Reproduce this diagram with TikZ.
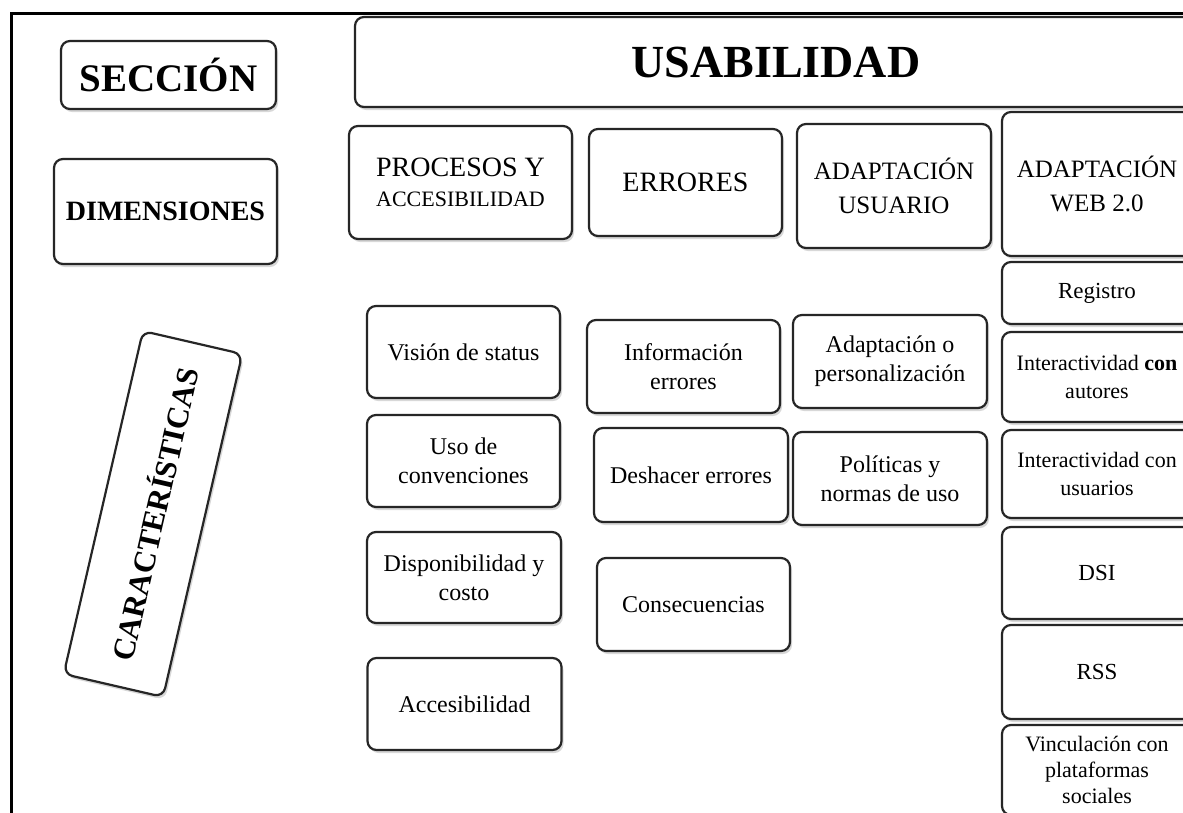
\documentclass[tikz,border=0pt]{standalone}
\usepackage{fontspec}
\setmainfont{Liberation Serif}
\usetikzlibrary{shadows}

\tikzset{
    caja/.style={draw=black!85, line width=2.2pt, rounded corners=9pt, fill=white,
        drop shadow={shadow xshift=2pt, shadow yshift=-3pt, opacity=0.3},
        align=center, inner sep=0pt},
    tam/.style 2 args={minimum width=#1pt, minimum height=#2pt},
    letra/.style 2 args={font=\fontsize{#1}{#2}\selectfont},
    negrita/.style 2 args={font=\fontsize{#1}{#2}\selectfont\bfseries},
}

\begin{document}
\begin{tikzpicture}[x=1pt, y=-1pt]
        \path[use as bounding box] (0, 0) rectangle (1183, 812);
        \clip (0, 0) rectangle (1183, 812);
        \fill[white] (0, 0) rectangle (1183, 812);
        % marco exterior
        \draw[line width=3pt] (11.5, 13.5) rectangle (1220, 840);

        % columna izquierda
        \node[caja, tam={215}{68}, negrita={39}{44}] (seccion) at (168.5, 75) {SECCIÓN};
        \node[caja, tam={223}{105}, negrita={28}{32}] (dimensiones) at (165.5, 211.5) {DIMENSIONES};
        \node[caja, tam={352}{102}, negrita={31}{36}, rotate=77] (caracteristicas) at (153, 514) {CARACTERÍSTICAS};

        % sección y dimensiones
        \node[caja, tam={842}{90}, negrita={46}{50}] (usabilidad) at (776, 62) {USABILIDAD};
        \node[caja, tam={223}{113}, letra={28}{30}] (procesos) at (460.5, 182.5)
            {PROCESOS Y\\{\fontsize{22}{26}\selectfont ACCESIBILIDAD}};
        \node[caja, tam={193}{107}, letra={28}{32}] (errores) at (685.5, 182.5) {ERRORES};
        \node[caja, tam={194}{124}, letra={25}{34}] (usuario) at (894, 186) {ADAPTACIÓN\\USUARIO};
        \node[caja, tam={190}{144}, letra={25}{34}] (web) at (1097, 184) {ADAPTACIÓN\\WEB 2.0};

        % características de procesos y accesibilidad
        \node[caja, tam={193}{92}, letra={24}{29}] (status) at (463.5, 352) {Visión de status};
        \node[caja, tam={193}{92}, letra={24}{29}] (convenciones) at (463.5, 461) {Uso de\\convenciones};
        \node[caja, tam={194}{91}, letra={24}{29}] (disponibilidad) at (464, 577.5) {Disponibilidad y\\costo};
        \node[caja, tam={194}{92}, letra={24}{29}] (accesibilidad) at (464.5, 704) {Accesibilidad};

        % características de errores
        \node[caja, tam={193}{93}, letra={24}{29}] (informacion) at (683.5, 366.5) {Información\\errores};
        \node[caja, tam={194}{94}, letra={24}{29}] (deshacer) at (691, 475) {Deshacer errores};
        \node[caja, tam={193}{93}, letra={24}{29}] (consecuencias) at (693.5, 604.5) {Consecuencias};

        % características de adaptación usuario
        \node[caja, tam={194}{93}, letra={24}{29}] (personalizacion) at (890, 361.5) {Adaptación o\\personalización};
        \node[caja, tam={194}{93}, letra={24}{29}] (politicas) at (890, 478.5) {Políticas y\\normas de uso};

        % características de adaptación web 2.0
        \node[caja, tam={190}{62}, letra={23}{27}] (registro) at (1097, 293) {Registro};
        \node[caja, tam={190}{90}, letra={22}{28}] (autores) at (1097, 377) {Interactividad \textbf{con}\\autores};
        \node[caja, tam={190}{88}, letra={22}{28}] (usuarios) at (1097, 474) {Interactividad con\\usuarios};
        \node[caja, tam={190}{92}, letra={23}{27}] (dsi) at (1097, 573) {DSI};
        \node[caja, tam={190}{94}, letra={23}{27}] (rss) at (1097, 672) {RSS};
        \node[caja, tam={190}{90}, letra={22}{26}] (vinculacion) at (1097, 770)
            {Vinculación con\\plataformas\\sociales};
    \end{tikzpicture}
\end{document}
